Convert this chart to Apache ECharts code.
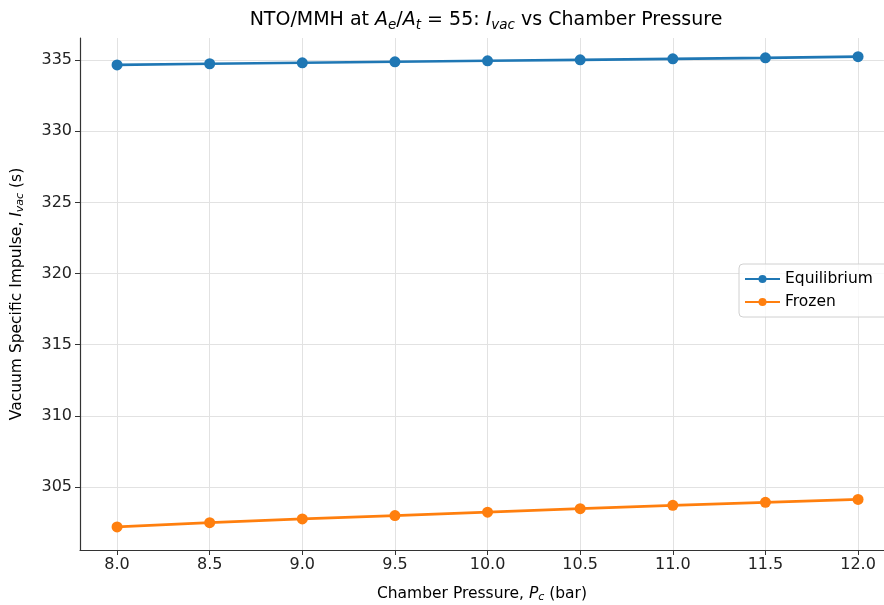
<!DOCTYPE html>
<html><head><meta charset="utf-8">
<script src="https://cdn.jsdelivr.net/npm/echarts@6/dist/echarts.min.js"></script>
<style>html,body{margin:0;padding:0;background:#fff}#c{width:884px;height:605px}</style>
</head><body><div id="c"></div>
<script>
const pressures = [8.0, 8.5, 9.0, 9.5, 10.0, 10.5, 11.0, 11.5, 12.0];
const equilibrium = [334.66, 334.74, 334.81, 334.88, 334.95, 335.02, 335.09, 335.16, 335.24];
const frozen = [302.2, 302.5, 302.76, 303.0, 303.24, 303.48, 303.72, 303.93, 304.13];
const xTicks = [8.0, 8.5, 9.0, 9.5, 10.0, 10.5, 11.0, 11.5, 12.0];
const yTicks = [305, 310, 315, 320, 325, 330, 335];

const font = 'DejaVu Sans';
const chart = echarts.init(document.getElementById('c'));
function richSet(size, subSize, pad) {
  return {
    n: {fontFamily: font, fontSize: size, fontWeight: 'normal', color: '#000'},
    i: {fontFamily: font, fontSize: size, fontWeight: 'normal', fontStyle: 'italic', color: '#000'},
    s: {fontFamily: font, fontSize: subSize, fontWeight: 'normal', fontStyle: 'italic', color: '#000', verticalAlign: 'bottom', padding: [pad, 0, 0, 0]}
  };
}
chart.setOption({
  animation: false,
  textStyle: {fontFamily: font},
  title: {
    text: '{n|NTO/MMH at }{i|A}{s|e}{n|/}{i|A}{s|t}{n| = 55: }{i|I}{s|vac}{n| vs Chamber Pressure}',
    left: 481, top: 4, textAlign: 'center',
    textStyle: {fontWeight: 'normal', rich: richSet(19, 13.5, 9)}
  },
  legend: {
    left: 739, top: 264, orient: 'vertical',
    itemWidth: 35, itemHeight: 10, itemGap: 7,
    padding: [7, 16, 7, 5],
    borderColor: '#d0d0d0', borderWidth: 1, borderRadius: 4,
    backgroundColor: 'rgba(255,255,255,0.8)',
    textStyle: {fontFamily: font, fontSize: 15.5, color: '#000'},
    data: ['Equilibrium', 'Frozen']
  },
  grid: {left: 80, top: 38, right: 0, bottom: 55, containLabel: false, outerBoundsMode: 'none'},
  xAxis: {
    type: 'value', min: 7.8, max: 12.14,
    name: '{n|Chamber Pressure, }{i|P}{s|c}{n| (bar)}',
    nameLocation: 'middle', nameGap: 35,
    nameTextStyle: {rich: richSet(15.5, 11, 7)},
    axisLine: {onZero: false, lineStyle: {color: '#333', width: 1.2}},
    axisTick: {customValues: xTicks, length: 5, lineStyle: {color: '#333'}},
    axisLabel: {customValues: xTicks, formatter: v => v.toFixed(1), fontSize: 16, color: '#222', margin: 7, fontFamily: font},
    splitLine: {show: true, lineStyle: {color: '#e2e2e2', width: 1}}
  },
  yAxis: {
    type: 'value', min: 300.58, max: 336.55,
    name: '{n|Vacuum Specific Impulse, }{i|I}{s|vac}{n| (s)}',
    nameLocation: 'middle', nameGap: 54, nameRotate: 90,
    nameTextStyle: {rich: richSet(15.5, 11, 7)},
    axisLine: {show: true, onZero: false, lineStyle: {color: '#333', width: 1.2}},
    axisTick: {show: true, customValues: yTicks, length: 5, lineStyle: {color: '#333'}},
    axisLabel: {customValues: yTicks, fontSize: 16, color: '#222', margin: 8, fontFamily: font},
    splitLine: {show: true, lineStyle: {color: '#e2e2e2', width: 1}}
  },
  series: [
    {name: 'Equilibrium', type: 'line', data: pressures.map((p, i) => [p, equilibrium[i]]),
     symbol: 'circle', symbolSize: 11, color: '#1f77b4', lineStyle: {width: 2.7}},
    {name: 'Frozen', type: 'line', data: pressures.map((p, i) => [p, frozen[i]]),
     symbol: 'circle', symbolSize: 11, color: '#ff7f0e', lineStyle: {width: 2.7}}
  ]
});
</script></body></html>
